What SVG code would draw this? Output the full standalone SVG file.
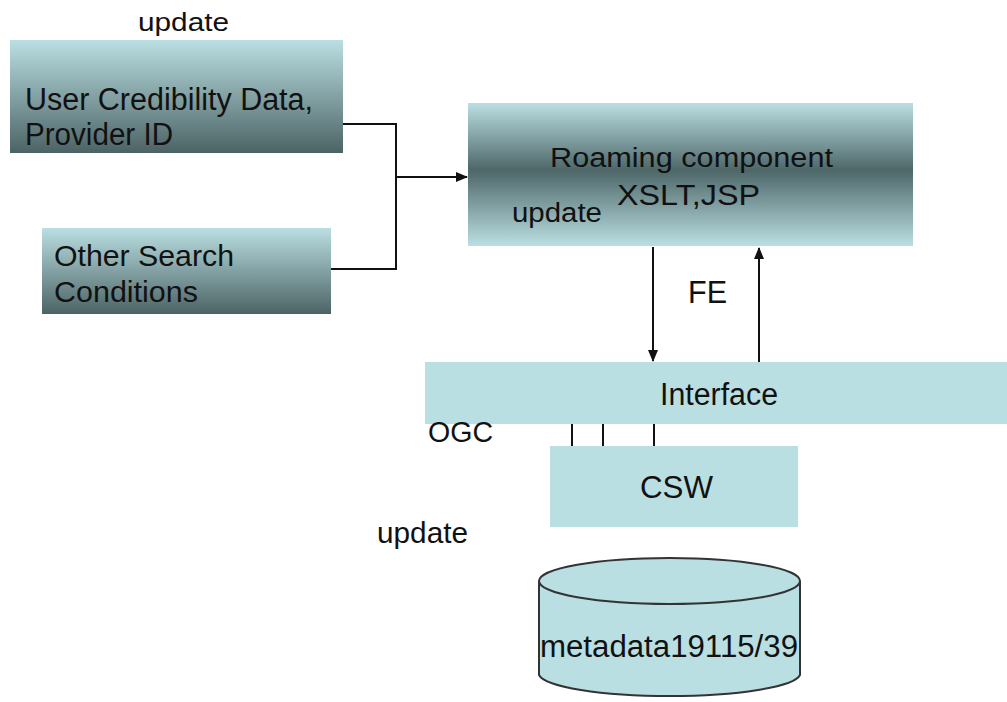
<svg xmlns="http://www.w3.org/2000/svg" width="1007" height="702" viewBox="0 0 1007 702">
<style>
text{font-family:"Liberation Sans",Arial,sans-serif;fill:#111;}
.flat{fill:#badfe2;}
.ln{stroke:#111;stroke-width:2;fill:none;}
</style>
<defs>
<linearGradient id="gDown" x1="0" y1="0" x2="0" y2="1">
<stop offset="0" stop-color="#badfe2"/>
<stop offset="1" stop-color="#4c6365"/>
</linearGradient>
<linearGradient id="gMid" x1="0" y1="0" x2="0" y2="1">
<stop offset="0" stop-color="#badfe2"/>
<stop offset="0.47" stop-color="#4e6769"/>
<stop offset="1" stop-color="#badfe2"/>
</linearGradient>
<marker id="ah" markerWidth="12" markerHeight="10" refX="11" refY="5" orient="auto" markerUnits="userSpaceOnUse">
<path d="M0,0 L12,5 L0,10 Z" fill="#111"/>
</marker>
</defs>
<rect width="1007" height="702" fill="#fff"/>

<g id="connectors">
<polyline class="ln" points="343,124 396,124 396,269 331,269"/>
<line class="ln" x1="396" y1="177" x2="467" y2="177" marker-end="url(#ah)"/>
<line class="ln" x1="653" y1="247" x2="653" y2="361" marker-end="url(#ah)"/>
<line class="ln" x1="759" y1="362" x2="759" y2="248" marker-end="url(#ah)"/>
<line class="ln" x1="572" y1="424" x2="572" y2="446"/>
<line class="ln" x1="603" y1="424" x2="603" y2="446"/>
<line class="ln" x1="654" y1="424" x2="654" y2="446"/>
</g>

<g id="update-top"><text x="138" y="31" font-size="26" textLength="91" lengthAdjust="spacingAndGlyphs">update</text></g>

<g id="user-credibility">
<rect x="10" y="40" width="333" height="113" fill="url(#gDown)"/>
<text x="25" y="110" font-size="31" textLength="288" lengthAdjust="spacingAndGlyphs">User Credibility Data,</text>
<text x="25" y="145" font-size="31" textLength="148" lengthAdjust="spacingAndGlyphs">Provider ID</text>
</g>

<g id="other-search">
<rect x="42" y="228" width="289" height="86" fill="url(#gDown)"/>
<text x="54" y="266" font-size="30" textLength="180" lengthAdjust="spacingAndGlyphs">Other Search</text>
<text x="54" y="302" font-size="30" textLength="144" lengthAdjust="spacingAndGlyphs">Conditions</text>
</g>

<g id="roaming">
<rect x="468" y="103" width="445" height="143" fill="url(#gMid)"/>
<text x="550" y="167" font-size="27" textLength="283" lengthAdjust="spacingAndGlyphs">Roaming component</text>
<text x="617" y="205" font-size="30" textLength="143" lengthAdjust="spacingAndGlyphs">XSLT,JSP</text>
<text x="512" y="222" font-size="27" textLength="90" lengthAdjust="spacingAndGlyphs">update</text>
</g>

<g id="fe-label"><text x="688" y="303" font-size="32" textLength="39" lengthAdjust="spacingAndGlyphs">FE</text></g>

<g id="interface">
<rect class="flat" x="425" y="362" width="582" height="62"/>
<text x="660" y="405" font-size="31" textLength="118" lengthAdjust="spacingAndGlyphs">Interface</text>
</g>

<g id="ogc-label"><text x="428" y="442" font-size="30" textLength="65" lengthAdjust="spacingAndGlyphs">OGC</text></g>

<g id="csw">
<rect class="flat" x="550" y="446" width="248" height="81"/>
<text x="640" y="498" font-size="31" textLength="73" lengthAdjust="spacingAndGlyphs">CSW</text>
</g>

<g id="update-low"><text x="377" y="543" font-size="30" textLength="91" lengthAdjust="spacingAndGlyphs">update</text></g>

<g id="metadata">
<path d="M539,581 L539,675 A131,23 0 0 0 800,675 L800,581" fill="#badfe2" stroke="#333" stroke-width="2"/>
<ellipse cx="669.5" cy="581" rx="130.5" ry="23" fill="#badfe2" stroke="#333" stroke-width="2"/>
<text x="540" y="657" font-size="31" textLength="258" lengthAdjust="spacingAndGlyphs">metadata19115/39</text>
</g>
</svg>
